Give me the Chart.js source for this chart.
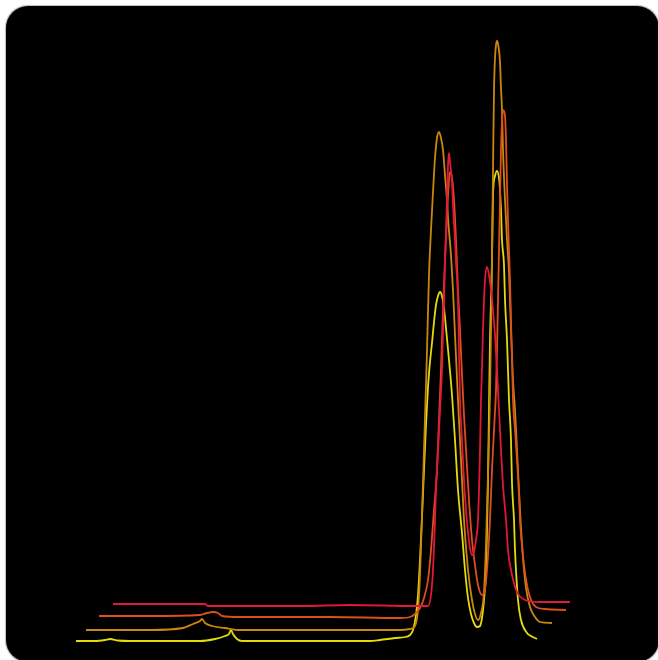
<!DOCTYPE html>
<html>
<head>
<meta charset="utf-8">
<script src="https://cdn.jsdelivr.net/npm/chart.js@4/dist/chart.umd.min.js"></script>
<style>
  html, body { margin: 0; padding: 0; background: #ffffff; overflow: hidden; }
  #frame { position: absolute; left: 6px; top: 6px; width: 653px; height: 656px;
           background: #000; border-radius: 22px; box-shadow: 0 0 1px 0.5px #bbb; }
  #wrap { position: absolute; left: 0; top: 0; width: 658px; height: 660px; }
</style>
</head>
<body>
<div id="frame"></div>
<div id="wrap"><canvas id="c" width="658" height="660"></canvas></div>
<script>
// Waterfall of four chromatogram traces (channel vs. stacked intensity)
const traceNames  = ['Run 1', 'Run 2', 'Run 3', 'Run 4'];
const traceColors = ['#e2173a', '#de4f1c', '#c9870e', '#e3dc0c'];

// Run 1 (red)
const run1X = [113,160,205,208,300,350,415,428,431,433,435,436,438,440,442,443,444,445,447,448,449,450,452,453,455,456,458,459,460,462,464,466,468,470,472,474,476,478,479,480,481,482,483,484,485,487,489,491,493,495,497,499,501,503,506,508,512,517,525,540,570];
const run1Y = [56,56,56,54,54,55,54,54,65,90,140,170,210,250,290,330,360,398,460,495,507,498,478,455,420,398,360,310,260,220,180,150,128,112,105,108,120,140,170,210,260,292,330,360,380,393,385,370,350,325,290,250,210,175,140,110,85,68,60,58,58];

// Run 2 (orange-red)
const run2X = [99,150,200,207,213,218,222,240,330,400,410,415,420,424,428,431,434,437,439,441,443,445,447,449,450,452,454,456,458,460,462,464,466,469,472,475,478,482,484,486,488,490,492,494,496,497,498,499,500,501,502,503,505,506,507,508,509,510,511,512,513,515,517,519,520,522,524,527,531,536,545,566];
const run2Y = [44,44,45,47,48,47,44,43,43,42,43,46,52,62,80,110,150,190,240,290,350,400,445,480,488,482,460,420,370,330,285,245,210,160,120,95,75,65,67,78,105,140,190,230,270,310,360,410,460,510,538,550,544,520,475,440,410,380,340,300,260,230,200,165,140,115,95,75,60,53,51,50];

// Run 3 (dark orange)
const run3X = [86,150,183,193,200,202,205,212,225,240,400,410,415,418,420,422,424,426,427,429,431,433,435,437,439,441,443,445,447,448,451,453,455,458,461,464,468,472,475,478,481,484,486,488,490,491,492,493,494,495,496,497,498,500,501,502,503,505,507,509,511,513,515,517,519,521,523,526,530,535,540,552];
const run3Y = [30,30,32,36,39,41,37,34,32,30,30,31,34,50,85,145,210,275,310,385,430,468,502,522,528,522,510,485,460,442,405,370,325,260,200,140,90,60,46,40,47,68,115,185,265,330,400,490,570,602,615,619,616,598,572,550,510,460,420,388,330,280,250,210,170,132,102,72,53,43,38,37];

// Run 4 (yellow)
const run4X = [76,95,105,110,118,130,200,215,225,229,231,233,237,242,330,370,380,395,405,410,413,416,418,420,422,424,426,428,430,432,434,436,438,440,442,444,446,449,452,455,458,462,465,468,471,474,477,480,482,484,486,487,488,489,490,491,492,493,495,497,499,500,501,502,504,505,507,509,511,512,514,515,518,521,527,531,537];
const run4Y = [19,19,20,21,19.5,19,19,21,24,26,30,26,21,19,19,19,20,22,23,25,30,45,65,100,143,190,235,273,298,317,338,355,364,368,364,352,332,300,265,220,170,127,90,62,46,37,33,34,42,60,90,130,180,250,320,360,400,465,484,489,482,470,450,420,395,360,320,260,220,177,140,110,60,40,27,24,21];

const runsX = [run1X, run2X, run3X, run4X];
const runsY = [run1Y, run2Y, run3Y, run4Y];

const datasets = traceNames.map((name, i) => ({
  label: name,
  data: runsX[i].map((x, k) => ({ x: x, y: runsY[i][k] })),
  borderColor: traceColors[i],
  borderWidth: 1.8,
  pointRadius: 0,
  cubicInterpolationMode: 'monotone',
  fill: false
}));

new Chart(document.getElementById('c'), {
  type: 'line',
  data: { datasets: datasets },
  options: {
    responsive: false,
    animation: false,
    layout: { padding: 0 },
    plugins: { legend: { display: false }, tooltip: { enabled: false } },
    scales: {
      x: { type: 'linear', min: 0, max: 658, display: false },
      y: { type: 'linear', min: 0, max: 660, display: false }
    }
  }
});
</script>
</body>
</html>
